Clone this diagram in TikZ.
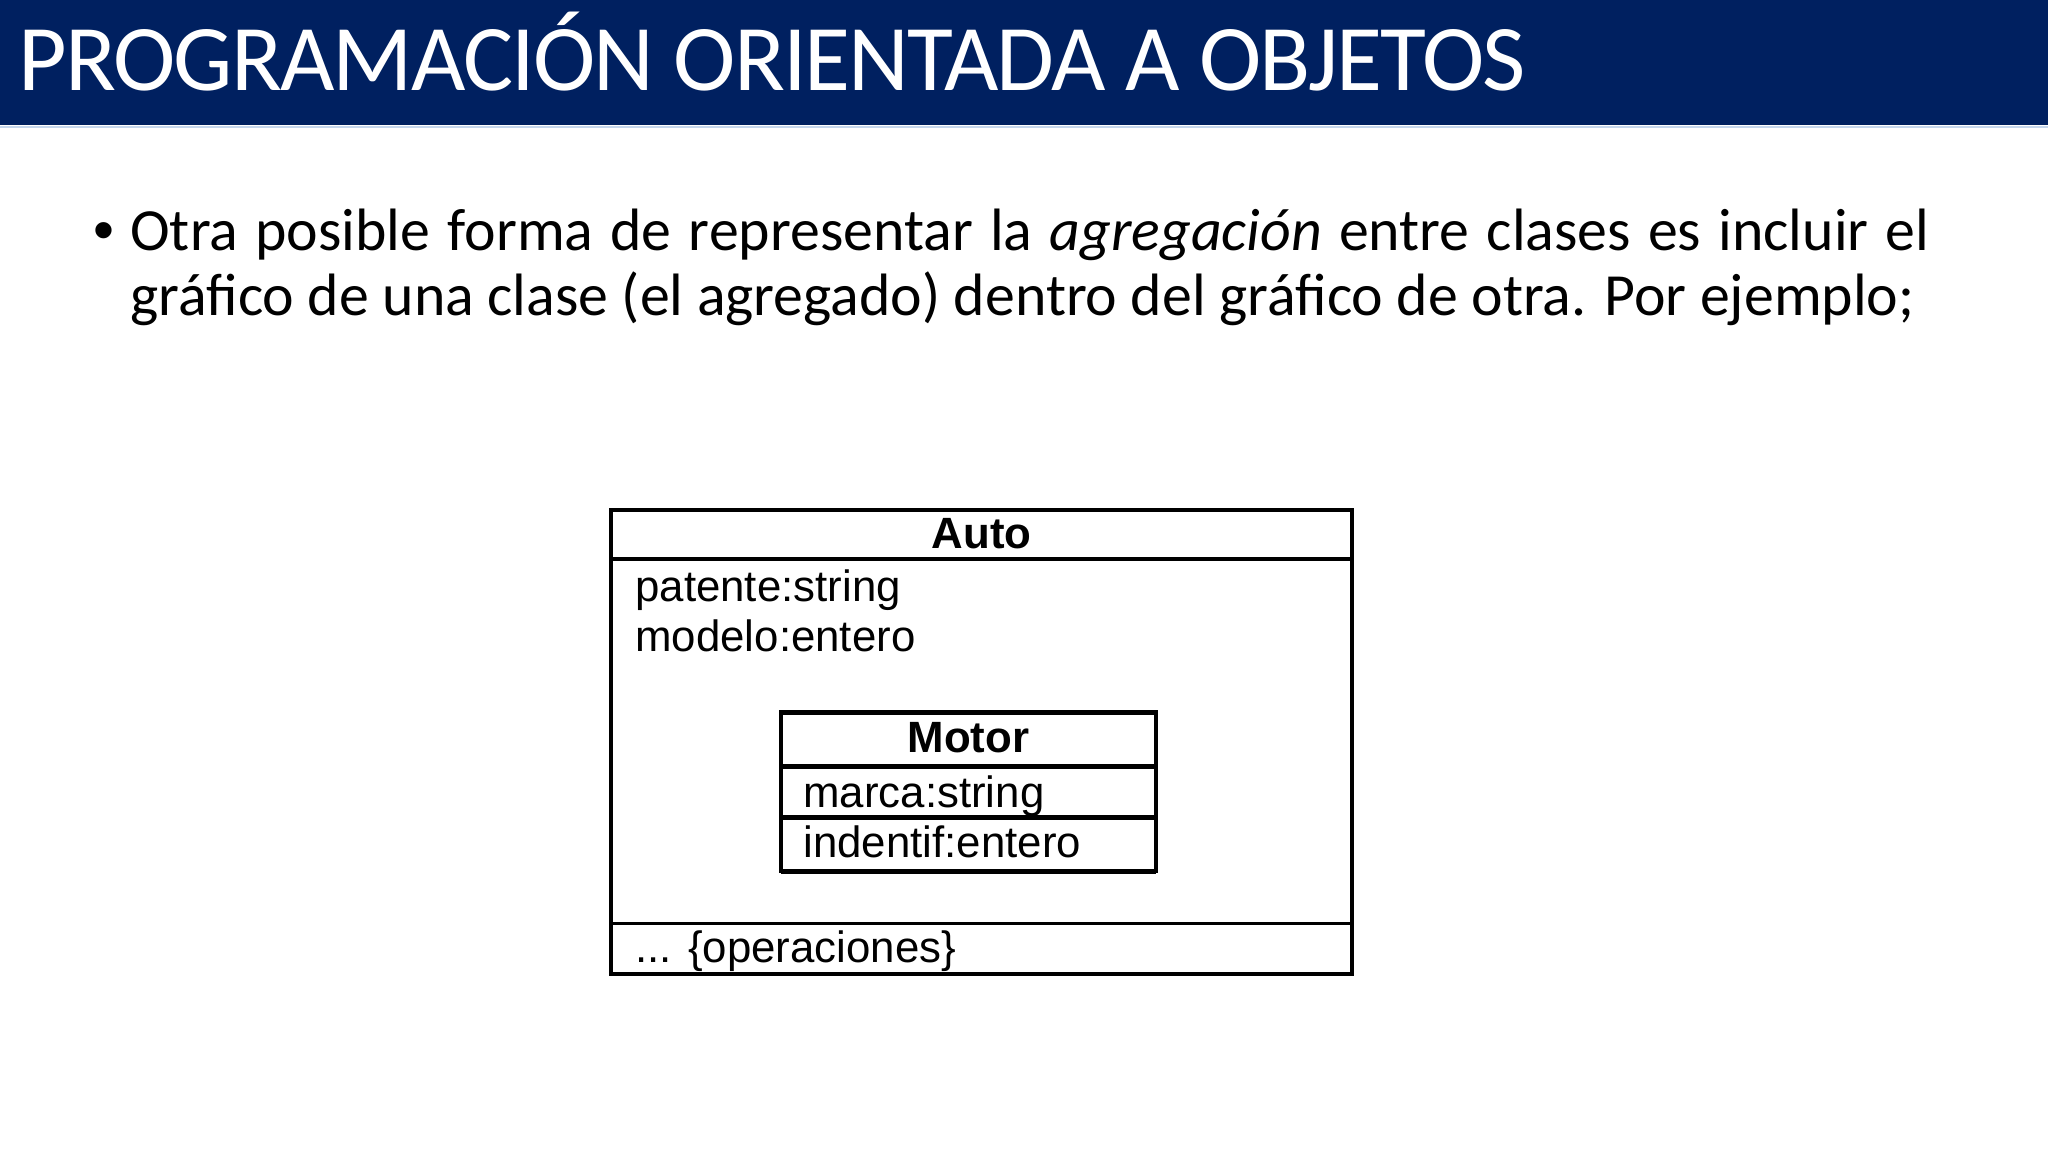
\documentclass[tikz,border=0pt]{standalone}
\usepackage{fontspec}
\setmainfont{Carlito}
\newfontfamily\umlfont{Liberation Sans}

\begin{document}
\begin{tikzpicture}[x=0.5pt,y=0.5pt,yscale=-1,xscale=1,
	umltext/.style={anchor=base west,inner sep=0pt,font=\umlfont\fontsize{21.9}{26}\selectfont},
	umlhead/.style={anchor=base,inner sep=0pt,font=\umlfont\bfseries\fontsize{21.9}{26}\selectfont}]
	\useasboundingbox (0,0) rectangle (2048,1152);
	
	%Shape: Rectangle [title bar]
	\draw [draw opacity=0][fill={rgb, 255:red, 0; green, 32; blue, 96 }  ,fill opacity=1 ] (0,0) -- (2048,0) -- (2048,125) -- (0,125) -- cycle ;
	%Straight Lines [under title]
	\draw [color={rgb, 255:red, 197; green, 214; blue, 236 }  ,draw opacity=1 ][line width=1]    (0,126.5) -- (2048,126.5) ;
	
	% Text Node
	\draw (18,90) node (title) [anchor=base west][inner sep=0pt]  [color=white]  {\fontsize{47}{56}\selectfont\addfontfeature{LetterSpace=-2.0}PROGRAMACIÓN ORIENTADA A OBJETOS};
	% Text Node
	\draw (104,250) node (bullet) [anchor=base][inner sep=0pt]    {\umlfont\fontsize{29.9}{32.5}\selectfont •};
	% Text Node
	\draw (130,250) node (body) [anchor=base west][inner sep=0pt]    {\parbox[t]{899.5pt}{\fontsize{29.9}{32.5}\selectfont\hyphenpenalty=10000
		Otra posible forma de representar la \textit{agregación} entre clases es incluir el gráfico de una clase (el agregado) dentro del gráfico de otra. Por ejemplo;}};
	
	%Shape: Rectangle [Auto]
	\draw  [line width=2.25]  (611,510) -- (1352,510) -- (1352,974) -- (611,974) -- cycle ;
	%Straight Lines
	\draw [line width=2.25]    (611,559) -- (1352,559) ;
	%Straight Lines
	\draw [line width=1.5]    (611,923) -- (1352,923) ;
	
	%Shape: Rectangle [Motor]
	\draw  [line width=1.75]  (781,712) -- (1156,712) -- (1156,871) -- (781,871) -- cycle ;
	%Straight Lines
	\draw [line width=2.5]    (781,712) -- (1156,712) (781,766) -- (1156,766) (781,817) -- (1156,817) (781,871) -- (1156,871) ;
	
	% Text Node
	\draw (981.5,548) node (auto) [umlhead]    {Auto};
	% Text Node
	\draw (635,601) node (patente) [umltext]    {patente:string};
	% Text Node
	\draw (635,651) node (modelo) [umltext]    {modelo:entero};
	% Text Node
	\draw (968.5,752) node (motor) [umlhead]    {Motor};
	% Text Node
	\draw (803,807) node (marca) [umltext]    {marca:string};
	% Text Node
	\draw (803,857) node (indentif) [umltext]    {indentif:entero};
	% Text Node
	\draw (635,962) node (operaciones) [umltext]    {... \{operaciones\}};
	
\end{tikzpicture}
\end{document}
